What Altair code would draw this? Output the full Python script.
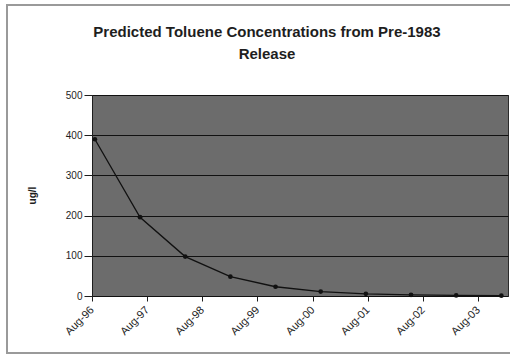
import altair as alt
import pandas as pd

# Sampling dates of the predicted decay curve
dates = [
    "1996-08-20", "1997-06-15", "1998-04-10", "1999-02-03", "1999-11-29",
    "2000-09-23", "2001-07-19", "2002-05-14", "2003-03-09", "2004-01-02",
]
# Predicted toluene concentration (ug/l)
conc = [390, 196, 98, 48, 23, 11, 5.5, 2.8, 1.4, 0.7]

# Yearly tick positions on the time axis
tick_years = [1996, 1997, 1998, 1999, 2000, 2001, 2002, 2003]
y_ticks = [0, 100, 200, 300, 400, 500]

df = pd.DataFrame({"date": pd.to_datetime(dates), "conc": conc})

font = "Liberation Sans"
ink = "#1e1e1e"

x_enc = alt.X(
    "date:T",
    scale=alt.Scale(
        domain=[alt.DateTime(year=1996, month=8, date=1),
                alt.DateTime(year=2004, month=2, date=15)]
    ),
    axis=alt.Axis(
        title=None,
        values=[alt.DateTime(year=y, month=8, date=1) for y in tick_years],
        format="%b-%y",
        labelAngle=-45,
        labelAlign="right",
        labelBaseline="middle",
        labelPadding=7,
        labelFontSize=11,
        labelColor=ink,
        labelFont=font,
        tickSize=5,
        tickColor=ink,
        domain=False,
        grid=False,
    ),
)

y_enc = alt.Y(
    "conc:Q",
    scale=alt.Scale(domain=[0, 500], nice=False),
    axis=alt.Axis(
        title="ug/l",
        values=y_ticks,
        labelFontSize=10,
        labelColor=ink,
        labelFont=font,
        labelPadding=2,
        tickSize=8,
        tickColor=ink,
        domainColor=ink,
        gridColor="#111111",
        gridWidth=1,
        titleFont=font,
        titleFontSize=10,
        titleFontWeight="bold",
        titleColor=ink,
        titleAngle=270,
        titleX=-60,
        titleY=100,
        titleAlign="center",
        titleBaseline="middle",
    ),
)

base = alt.Chart(df)

line = base.mark_line(color="#111111", strokeWidth=1.3).encode(x=x_enc, y=y_enc)
pts = base.mark_point(filled=True, color="#111111", size=22, opacity=1).encode(
    x="date:T", y="conc:Q"
)

# Outer chart frame
frame = base.mark_rect(fill=None, stroke="#9a9a9a", strokeWidth=2, clip=False).encode(
    x=alt.value(-85), x2=alt.value(440), y=alt.value(-90), y2=alt.value(258)
)

chart = (
    alt.layer(frame, line, pts)
    .properties(
        width=416,
        height=201,
        title=alt.TitleParams(
            text=["Predicted  Toluene Concentrations from Pre-1983", "Release"],
            font=font,
            fontSize=15,
            fontWeight="bold",
            color=ink,
            lineHeight=22,
            offset=-58,
            anchor="middle",
            frame="group",
            dx=-33,
        ),
        autosize=alt.AutoSizeParams(type="none"),
        padding={"left": 92, "top": 95, "right": 2, "bottom": 68},
        background="white",
    )
    .configure_view(fill="#6c6c6c", stroke="#2a2a2a", strokeWidth=1)
)

chart.save("out.html", embed_options={"renderer": "svg", "actions": False})
